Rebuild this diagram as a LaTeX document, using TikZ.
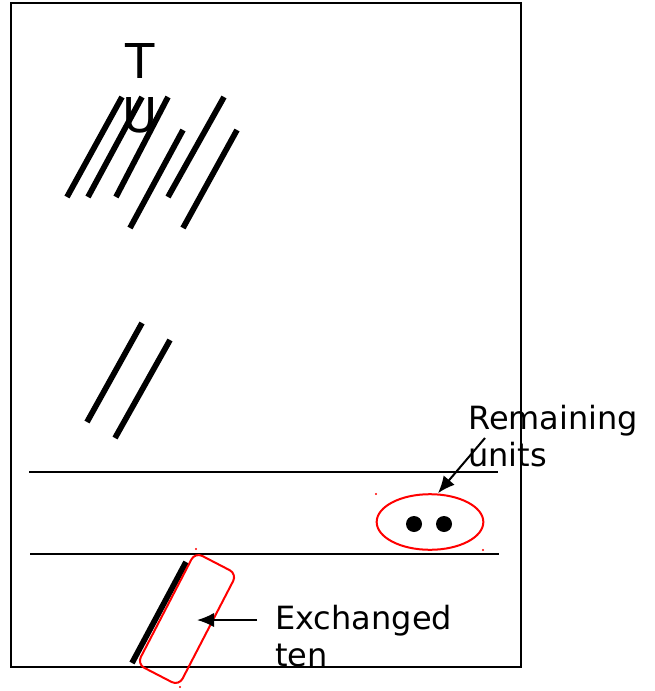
\documentclass[tikz,border=0pt]{standalone}
\usepackage{fontspec}
\setmainfont{DejaVu Sans}
\usetikzlibrary{positioning,shapes.geometric,arrows.meta,calc}
\tikzstyle{stick}=[%
      draw=black, line width=4.3pt, line cap=butt
]
\tikzstyle{rule}=[%
      draw=black, line width=1.6pt
]
\tikzstyle{lbl}=[%
      inner sep=0pt, align=left, anchor=north west, font=\fontsize{24}{28}\selectfont
]
\tikzstyle{ring}=[%
      ellipse, draw=red, line width=1.5pt, fill=none,
      minimum width=80pt, minimum height=41.7pt, inner sep=0pt
]
\tikzstyle{tenbox}=[%
      rectangle, rounded corners=6pt, draw=red, line width=1.5pt, fill=none,
      minimum width=94.5pt, minimum height=35.25pt, inner sep=0pt, rotate=62.6
]
\tikzstyle{pointer}=[%
      draw=black, line width=1.5pt, -{Latex[length=4.5mm,width=3.8mm]}
]
\tikzstyle{speck}=[%
      fill=red
]

\begin{document}
\begin{tikzpicture}[x=0.75pt,y=-0.75pt]
    \useasboundingbox (0,0) rectangle (654,691);
    % frame and place-value rows
    \draw[rule] (11,3) rectangle (521,667);
    \draw[rule] (29,472) -- (498,472);
    \draw[rule] (30,554) -- (499,554);

    \node[inner sep=0pt, anchor=north, align=center, font=\fontsize{36}{41}\selectfont] (tu) at (140,43) {T\\U};

    % tens
    \draw[stick] (122,97)  -- (67,197);
    \draw[stick] (142,97)  -- (88,197);
    \draw[stick] (168,97)  -- (116,197);
    \draw[stick] (183,130) -- (130,228);
    \draw[stick] (224,97)  -- (168,197);
    \draw[stick] (237,130) -- (183,228);

    \draw[stick] (142,323) -- (87,422);
    \draw[stick] (170,340) -- (115,438);

    % units
    \node[ring] (dots) at (430,522) {};
    \fill (414,524) circle (6pt);
    \fill (444,524) circle (6pt);
    \fill[speck] (376,494) circle (0.8pt);
    \fill[speck] (483,550) circle (0.8pt);

    \node[lbl] (remain) at (468,405) {Remaining\\units};
    \coordinate (remtail) at (485,438);
    \draw[pointer] (remtail) -- ($(dots.north)+(8,0)$);

    % exchanged ten
    \draw[stick] (186,562) -- (132,663);
    \node[tenbox] (swap) at (187,619) {};
    \fill[speck] (196,549) circle (0.8pt);
    \fill[speck] (180,687) circle (0.8pt);

    \node[lbl] (exch) at (275,605) {Exchanged\\ten};
    \coordinate (exchtail) at (257,620);
    \draw[pointer] (exchtail) -- ($(swap.center)+(10,1)$);
\end{tikzpicture}
\end{document}
